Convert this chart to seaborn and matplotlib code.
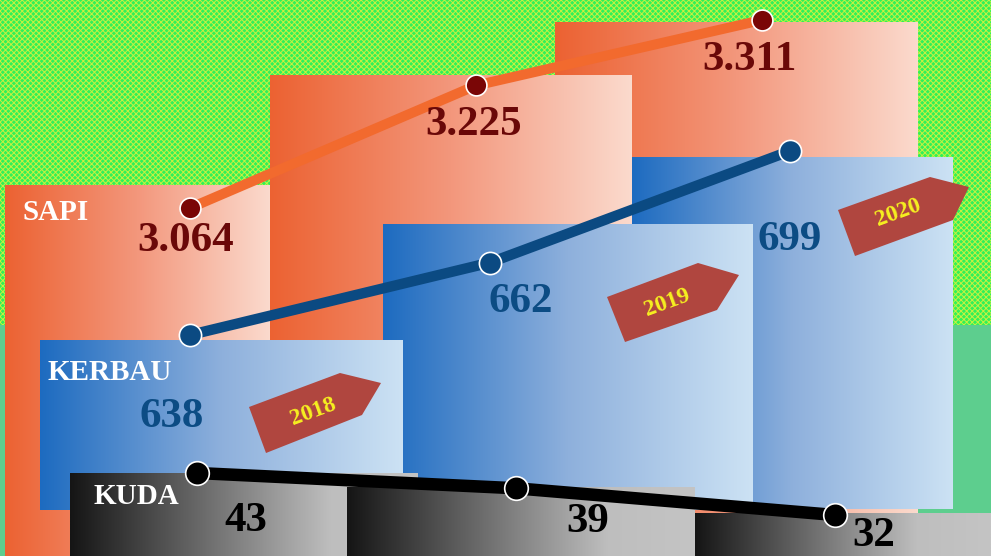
import numpy as np
import pandas as pd
import seaborn as sns
import matplotlib.pyplot as plt
from matplotlib.colors import LinearSegmentedColormap
from matplotlib.patches import Rectangle, Polygon

# Data
years = ["2018", "2019", "2020"]
sapi = [3064, 3225, 3311]
kerbau = [638, 662, 699]
kuda = [43, 39, 32]

W, H = 991, 556

sns.set_theme(style="white")
plt.rcParams['font.family'] = ['Liberation Serif', 'DejaVu Serif']
plt.rcParams['hatch.linewidth'] = 0.7

fig = plt.figure(figsize=(W / 100, H / 100), dpi=100)

# background layer in pixel coordinates
bg = fig.add_axes([0, 0, 1, 1])
bg.axis('off')
bg.add_patch(Rectangle((0, 0), W, H, facecolor='#30f05a', edgecolor='#c8f040',
                       hatch='xxxxxx', lw=0, zorder=0))
bg.add_patch(Rectangle((0, 325), W, H - 325, facecolor='#5dce8e', lw=0, zorder=0.5))

orange = LinearSegmentedColormap.from_list('o', ['#ec6232', '#f3977c', '#fbdacd'])
blue = LinearSegmentedColormap.from_list('b', ['#1d6bc0', '#8eb0dc', '#cce2f4'])
gray = LinearSegmentedColormap.from_list('g', [(0, '#151515'), (0.75, '#bebebe'), (1, '#c4c4c4')])
grad = np.linspace(0, 1, 256).reshape(1, -1)


def panel(box, cmap, z):
    x0, y0, x1, y1 = box
    bg.imshow(grad, cmap=cmap, extent=(x0, x1, y1, y0), aspect='auto', zorder=z)


# year panels (back to front)
orange_boxes = [(5, 185, 270, 556), (270, 75, 632, 556), (555, 22, 918, 556)]
blue_boxes = [(40, 340, 403, 510), (383, 224, 753, 510), (632, 157, 953, 509)]
gray_boxes = [(70, 473, 418, 556), (347, 487, 695, 556), (695, 513, 991, 556)]
for i in (2, 1, 0):
    panel(orange_boxes[i], orange, 1 + (2 - i) * 0.1)
for i in (2, 1, 0):
    panel(blue_boxes[i], blue, 2 + (2 - i) * 0.1)
for i in (0, 1, 2):
    panel(gray_boxes[i], gray, 3 + i * 0.1)
bg.set_xlim(0, W)
bg.set_ylim(H, 0)


# one overlay axes per series so each has its own value scale
def series_axes(x0, y0, x1, y1):
    ax = fig.add_axes([x0 / W, 1 - y1 / H, (x1 - x0) / W, (y1 - y0) / H])
    ax.patch.set_alpha(0)
    ax.set_axis_off()
    return ax


series = [
    (sapi, (190, 20, 762, 208), '#f26a2e', '#7a0606', 7.2, 15),
    (kerbau, (190, 151, 790, 335), '#0b4a82', '#0b4a82', 7.5, 16),
    (kuda, (197, 473, 835, 515), 'black', 'black', 9, 17),
]
for vals, span, lc, mc, lw, ms in series:
    ax = series_axes(*span)
    df = pd.DataFrame({'i': range(len(years)), 'v': vals})
    sns.lineplot(data=df, x='i', y='v', ax=ax, color=lc, lw=lw, marker='o',
                 markersize=ms, markerfacecolor=mc, markeredgecolor='white',
                 markeredgewidth=1.2)
    ax.set_xlim(0, len(years) - 1)
    ax.set_ylim(min(vals), max(vals))
    for ln in ax.lines:
        ln.set_clip_on(False)
        ln.set_solid_capstyle('butt')

# foreground: tags and labels
fg = fig.add_axes([0, 0, 1, 1])
fg.patch.set_alpha(0)
fg.axis('off')
fg.set_xlim(0, W)
fg.set_ylim(H, 0)

tags = [
    [(249, 407), (340, 373), (381, 383), (362, 415), (266, 453)],
    [(607, 297), (698, 263), (739, 275), (717, 310), (625, 342)],
    [(838, 210), (930, 177), (969, 187), (953, 220), (855, 256)],
]
tag_text = [(313, 412), (667, 303), (898, 213)]
for pts, (tx, ty), yr in zip(tags, tag_text, years):
    fg.add_patch(Polygon(pts, closed=True, facecolor='#b0463f', lw=0))
    fg.text(tx, ty, yr, color='#f6f020', fontsize=17, fontweight='bold',
            rotation=20, ha='center', va='center')


def fmt(v):
    return f"{v:,}".replace(",", ".")


label_pos = {
    'sapi': [(186, 241), (474, 125), (749, 60)],
    'kerbau': [(172, 417), (521, 302), (790, 240)],
    'kuda': [(246, 521), (588, 522), (874, 536)],
}
for key, vals, col in [('sapi', sapi, '#6a0808'), ('kerbau', kerbau, '#0c4c84'),
                       ('kuda', kuda, 'black')]:
    for (x, y), v in zip(label_pos[key], vals):
        fg.text(x, y, fmt(v), color=col, fontsize=31, fontweight='bold',
                ha='center', va='center')

for name, x, y in [('SAPI', 22, 213), ('KERBAU', 48, 372), ('KUDA', 93, 497)]:
    fg.text(x, y, name, color='white', fontsize=21, fontweight='bold',
            ha='left', va='center')

fig.savefig('out.png', dpi=100)
